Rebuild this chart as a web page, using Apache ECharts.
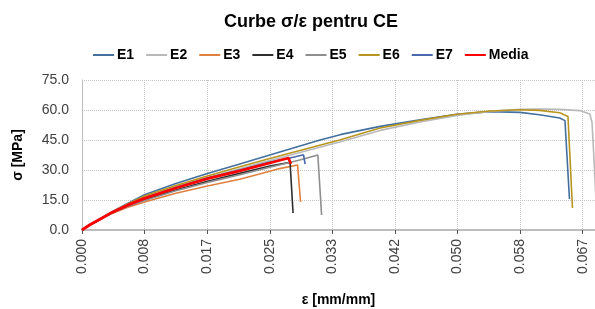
<!DOCTYPE html>
<html>
<head>
<meta charset="utf-8">
<script src="https://cdn.jsdelivr.net/npm/echarts@6/dist/echarts.min.js"></script>
<style>
  html, body { margin: 0; padding: 0; background: #fff; }
  #chart { width: 595px; height: 309px; }
</style>
</head>
<body>
<div id="chart"></div>
<script>
// [strain mm/mm, stress MPa]
const e1 = [[0,0],[0.001,2.5],[0.0025,5.8],[0.004,9.1],[0.006,13.2],[0.00833,17.6],[0.0125,23.2],[0.0167,28.2],[0.021,33],[0.025,37.5],[0.0317,45],[0.0345,47.8],[0.0397,51.8],[0.045,55.1],[0.0499,57.8],[0.0543,59.2],[0.0583,58.8],[0.0609,57.6],[0.0636,56],[0.0643,54.7],[0.0649,15.5]];
const e2 = [[0,0],[0.001,2.5],[0.0025,5.6],[0.004,8.8],[0.006,12.4],[0.00833,16.3],[0.0125,21.6],[0.0167,26.2],[0.021,30.6],[0.025,34.8],[0.0343,44],[0.0397,49.8],[0.045,54],[0.0499,57.3],[0.0543,59.3],[0.0583,60.3],[0.0609,60.5],[0.0636,60.3],[0.0663,59.7],[0.0676,58],[0.0679,54],[0.0681,40],[0.0686,2]];
const e3 = [[0,0],[0.001,2.4],[0.0025,5.4],[0.004,8.3],[0.006,11.3],[0.00833,14],[0.0125,18.4],[0.0167,22],[0.021,25.4],[0.025,29.4],[0.0263,30.7],[0.0287,32.5],[0.0291,14]];
const e4 = [[0,0],[0.001,2.5],[0.0025,5.5],[0.004,8.6],[0.006,11.9],[0.00833,15.1],[0.0125,20],[0.0167,24.4],[0.021,28.3],[0.025,32],[0.0277,33.8],[0.0281,8.5]];
const e5 = [[0,0],[0.001,2.4],[0.0025,5.5],[0.004,8.5],[0.006,11.7],[0.00833,14.8],[0.0125,19.6],[0.0167,23.8],[0.021,27.6],[0.025,31.4],[0.029,35],[0.0314,37.5],[0.0319,7.5]];
const e6 = [[0,0],[0.001,2.5],[0.0025,5.8],[0.004,9],[0.006,12.9],[0.00833,17],[0.0125,22.3],[0.0167,27],[0.021,31.6],[0.025,35.8],[0.029,39.8],[0.0343,45],[0.0397,51],[0.045,54.8],[0.0499,57.9],[0.0543,59.5],[0.0583,60.1],[0.0609,59.8],[0.0636,58.6],[0.0647,56.8],[0.0653,11]];
const e7 = [[0,0],[0.001,2.5],[0.0025,5.6],[0.004,8.8],[0.006,12.4],[0.00833,16],[0.0125,21.2],[0.0167,26],[0.021,30],[0.025,34],[0.0277,36],[0.0295,37.6],[0.0297,33]];
const media = [[0,0],[0.001,2.5],[0.0025,5.6],[0.004,8.8],[0.006,12.3],[0.00833,15.8],[0.0125,21],[0.0167,25.7],[0.021,29.6],[0.025,33.5],[0.0275,36],[0.0278,33]];

const names = ['E1', 'E2', 'E3', 'E4', 'E5', 'E6', 'E7', 'Media'];
const curves = [e1, e2, e3, e4, e5, e6, e7, media];
const colors = ['#44709f', '#b9b9b9', '#e0803e', '#2e2e2e', '#8e8e8e', '#b8951f', '#4a68ab', '#ff0000'];

const chart = echarts.init(document.getElementById('chart'));

const series = curves.map(function (data, i) {
    return {
        name: names[i],
        type: 'line',
        data: data,
        symbol: 'none',
        clip: true,
        z: i === 7 ? 5 : 2,
        lineStyle: { color: colors[i], width: i === 7 ? 2.8 : 1.6 },
        itemStyle: { color: colors[i] }
    };
});

const gridLine = { show: true, lineStyle: { color: '#c6c6c6', type: 'dotted', width: 1 } };
const font = 'Liberation Sans, Arial, sans-serif';

chart.setOption({
    animation: false,
    title: {
        text: 'Curbe σ/ε pentru CE',
        left: 306,
        textAlign: 'center',
        top: 8,
        textStyle: { fontFamily: font, fontSize: 18, fontWeight: 'bold', color: '#000' }
    },
    legend: {
        data: names,
        top: 43,
        left: 93,
        padding: [5, 0, 5, 0],
        icon: 'rect',
        itemWidth: 21,
        itemHeight: 2,
        itemGap: 12,
        textStyle: { fontFamily: font, fontSize: 14, fontWeight: 'bold', color: '#000', padding: [0, 0, 0, -2] }
    },
    grid: { left: 82, right: 0, top: 80, bottom: 79, containLabel: false },
    xAxis: {
        type: 'value',
        min: 0,
        max: 0.0683,
        interval: 1 / 120,
        name: 'ε [mm/mm]',
        nameLocation: 'middle',
        nameGap: 63,
        nameTextStyle: { fontFamily: font, fontSize: 14, fontWeight: 'bold', color: '#000' },
        axisLine: { show: true, lineStyle: { color: '#bdbdbd', width: 2 } },
        axisTick: { show: true, length: 4, lineStyle: { color: '#555' } },
        splitLine: gridLine,
        axisLabel: {
            rotate: 90,
            margin: 9,
            showMaxLabel: false,
            fontFamily: font,
            fontSize: 14,
            color: '#404040',
            formatter: function (v) { return v.toFixed(3); }
        }
    },
    yAxis: {
        type: 'value',
        min: 0,
        max: 75,
        interval: 15,
        name: 'σ [MPa]',
        nameLocation: 'middle',
        nameGap: 57,
        nameTextStyle: { fontFamily: font, fontSize: 14, fontWeight: 'bold', color: '#000' },
        axisLine: { show: true, lineStyle: { color: '#bdbdbd', width: 1 } },
        axisTick: { show: false },
        splitLine: gridLine,
        axisLabel: {
            margin: 13,
            fontFamily: font,
            fontSize: 14,
            color: '#404040',
            formatter: function (v) { return v.toFixed(1); }
        }
    },
    series: series
});
</script>
</body>
</html>
